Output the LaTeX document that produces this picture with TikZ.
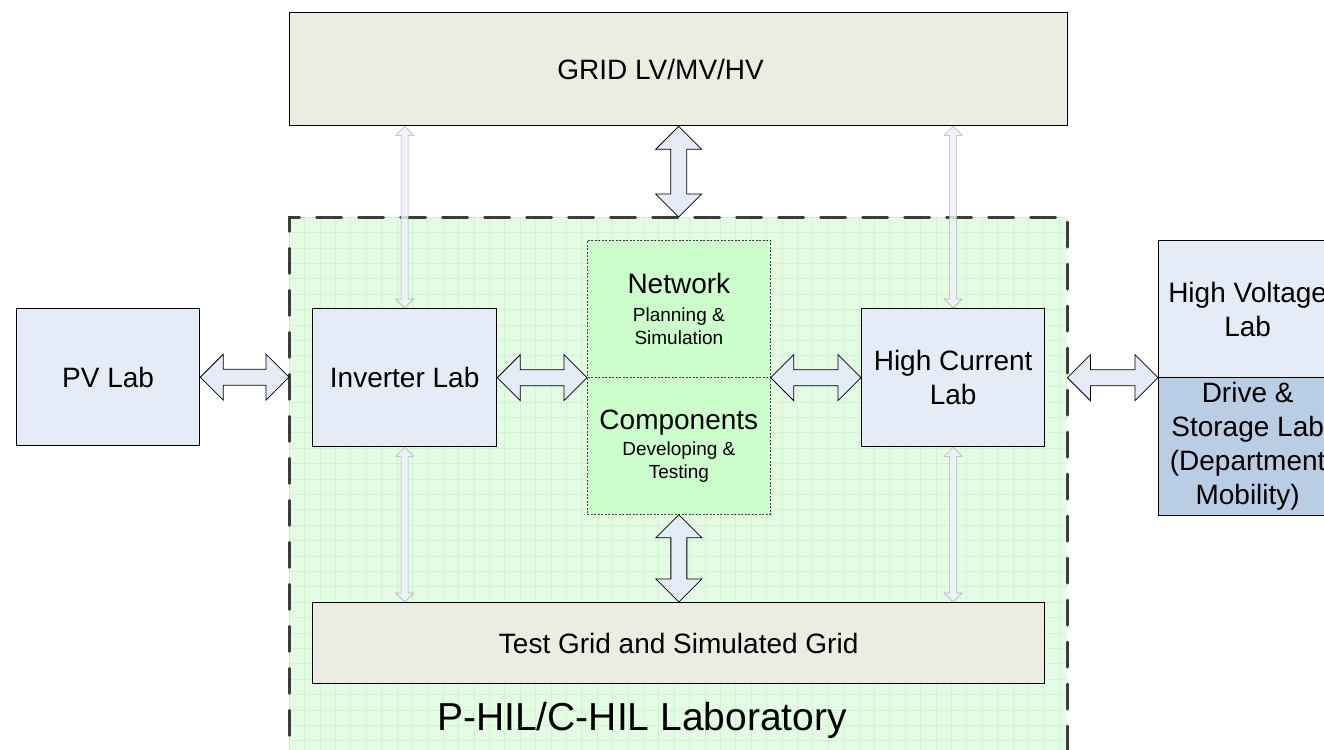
\documentclass[tikz,border=0pt]{standalone}
\usepackage{fontspec}
\setmainfont{Liberation Sans}
\usetikzlibrary{calc}

\definecolor{boxblue}{HTML}{E6ECF7}
\definecolor{driveblue}{HTML}{B9CDE5}
\definecolor{gridgray}{HTML}{ECECE1}
\definecolor{labgreen}{HTML}{E3FCE3}
\definecolor{gridline}{HTML}{CFF5CF}
\definecolor{netgreen}{HTML}{CCFFCC}
\definecolor{dashgray}{HTML}{3C3C3C}

\newcommand\labfont{\fontsize{28}{34}\selectfont}
\newcommand\subfont{\fontsize{19}{23}\selectfont}
\newcommand\regionfont{\fontsize{39}{46}\selectfont}

\tikzset{
  box/.style={draw=black, line width=1.3pt, fill=boxblue, align=center, font=\labfont, inner sep=0pt, anchor=north west},
  netbox/.style={draw=black!75, dashed, dash pattern=on 2pt off 1.5pt, line width=0.7pt, fill=netgreen, align=center, font=\subfont, inner sep=0pt, anchor=north west},
  blockarr/.style={draw=black, line width=0.8pt, fill=boxblue},
  thinarr/.style={draw=black!30, line width=0.6pt, fill=boxblue!70, fill opacity=0.85},
}

% double arrows: style, first end, second end, head size, half shaft
\newcommand\harrow[5]{\draw[#1] let \p1=(#2), \p2=(#3) in
  (\x1,\y1) -- ({\x1+#4},{\y1+#4}) -- ({\x1+#4},{\y1+#5}) -- ({\x2-#4},{\y1+#5}) -- ({\x2-#4},{\y1+#4}) -- (\x2,\y1)
  -- ({\x2-#4},{\y1-#4}) -- ({\x2-#4},{\y1-#5}) -- ({\x1+#4},{\y1-#5}) -- ({\x1+#4},{\y1-#4}) -- cycle;}
\newcommand\varrow[5]{\draw[#1] let \p1=(#2), \p2=(#3) in
  (\x1,\y1) -- ({\x1-#4},{\y1-#4}) -- ({\x1-#5},{\y1-#4}) -- ({\x1-#5},{\y2+#4}) -- ({\x1-#4},{\y2+#4}) -- (\x1,\y2)
  -- ({\x1+#4},{\y2+#4}) -- ({\x1+#5},{\y2+#4}) -- ({\x1+#5},{\y1-#4}) -- ({\x1+#4},{\y1-#4}) -- cycle;}

\begin{document}
\begin{tikzpicture}[x=1pt,y=-1pt]
\useasboundingbox (0,0) rectangle (1324,749);
\clip (0,0) rectangle (1324,749);

% laboratory area
\node[fill=labgreen, minimum width=778pt, minimum height=560pt, inner sep=0pt, anchor=north west] (lab) at (289,217) {};
\begin{scope}[shift={(289,217)}]
\draw[step=15.4pt, gridline, line width=0.5pt] (0,0) grid (778,560);
\end{scope}
\draw[dashgray, line width=3pt, line cap=round, dash pattern=on 25pt off 17pt] (lab.south west) -- (lab.north west) -- (lab.north east) -- (lab.south east);
\node[font=\regionfont] (labname) at (642,720) {P-HIL/C-HIL Laboratory};

% boxes
\node[box, fill=gridgray, minimum width=778pt, minimum height=113pt] (grid) at (289,12) {};
\node[font=\labfont] (gridname) at ([xshift=-18pt]grid.center) {GRID LV/MV/HV};
\node[box, minimum width=183pt, minimum height=137pt] (pv) at (16,308) {PV Lab};
\node[box, minimum width=184pt, minimum height=138pt] (inv) at (312,308) {Inverter Lab};
\node[box, minimum width=183pt, minimum height=138pt] (hcl) at (861,308) {High Current\\Lab};
\node[netbox, minimum width=183pt, minimum height=137pt] (net) at (587,240) {{\labfont Network}\\[5pt]Planning \&\\Simulation};
\node[netbox, minimum width=183pt, minimum height=137pt] (comp) at (587,377) {{\labfont Components}\\[3pt]Developing \&\\Testing};
\node[box, minimum width=178pt, minimum height=137pt] (hvl) at (1158,240) {High Voltage\\Lab};
\node[box, fill=driveblue, minimum width=178pt, minimum height=138pt] (dsl) at (1158,377) {Drive \&\\Storage Lab\\(Department\\Mobility)};
\node[box, fill=gridgray, minimum width=732pt, minimum height=81pt] (test) at (312,602) {Test Grid and Simulated Grid};

% thin links
\varrow{thinarr}{inv.north |- grid.south}{inv.north}{9pt}{3.5pt}
\varrow{thinarr}{inv.south}{inv.south |- test.north}{9pt}{3.5pt}
\varrow{thinarr}{hcl.north |- grid.south}{hcl.north}{9pt}{3.5pt}
\varrow{thinarr}{hcl.south}{hcl.south |- test.north}{9pt}{3.5pt}

% block arrows
\harrow{blockarr}{pv.east}{pv.east -| lab.west}{23pt}{8pt}
\harrow{blockarr}{inv.east}{inv.east -| net.west}{23pt}{8pt}
\harrow{blockarr}{hcl.west -| net.east}{hcl.west}{23pt}{8pt}
\harrow{blockarr}{hcl.east -| lab.east}{hcl.east -| hvl.west}{23pt}{8pt}
\varrow{blockarr}{grid.south}{lab.north}{23pt}{8pt}
\varrow{blockarr}{comp.south}{test.north}{23pt}{8pt}
\end{tikzpicture}
\end{document}
